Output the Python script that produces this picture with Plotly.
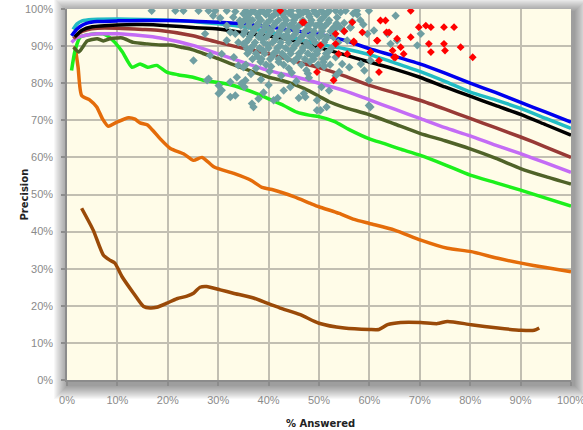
import plotly.graph_objects as go

# ---------------- data (percent units) ----------------
blue_x = [0.9, 2, 3, 4, 6, 10, 15, 20, 25, 30, 35, 40, 45, 50, 55, 60, 65, 70, 75, 80, 85, 90, 95, 100]
blue_y = [92.8, 94.6, 95.6, 96.2, 96.6, 96.8, 96.9, 96.9, 96.7, 96.4, 96.0, 95.2, 94.2, 93.2, 91.6, 89.3, 87.3, 85.2, 82.7, 80.0, 77.5, 74.8, 72.2, 69.5]

cyan_x = [1.2, 2, 3, 5, 10, 15, 20, 25, 30, 35, 40, 45, 50, 55, 60, 65, 70, 75, 80, 85, 90, 95, 100]
cyan_y = [94.5, 96.0, 96.8, 97.2, 97.3, 97.2, 97.0, 96.6, 96.0, 95.2, 93.8, 92.2, 90.5, 89.3, 87.7, 85.5, 83.2, 80.5, 77.6, 75.5, 73.2, 70.5, 67.8]

black_x = [1.5, 3, 5, 10, 15, 20, 25, 30, 35, 40, 45, 50, 55, 60, 65, 70, 75, 80, 85, 90, 95, 100]
black_y = [92.5, 94.3, 95.2, 95.7, 95.8, 95.5, 95.0, 94.6, 93.6, 92.7, 91.5, 89.6, 87.7, 85.7, 83.8, 81.6, 79.0, 76.5, 74.0, 71.6, 68.8, 66.0]

maroon_x = [1.3, 2.5, 4, 6, 10, 15, 18.5, 25, 30, 35, 40, 45, 50, 55, 60, 65, 70, 75, 80, 85, 90, 95, 100]
maroon_y = [92.0, 93.6, 94.4, 94.8, 94.8, 94.5, 94.2, 92.8, 91.0, 89.4, 87.9, 86.0, 84.2, 82.0, 79.4, 77.4, 75.4, 73.0, 70.5, 68.0, 65.5, 62.8, 60.0]

violet_x = [0.9, 2, 4, 6, 10, 15, 18.5, 25, 30, 35, 40, 45, 50, 55, 60, 65, 70, 75, 80, 85, 90, 95, 100]
violet_y = [91.0, 92.3, 93.0, 93.3, 93.3, 92.8, 92.2, 90.2, 87.9, 85.6, 83.4, 81.8, 80.0, 78.0, 75.5, 73.0, 70.5, 68.0, 65.8, 63.3, 61.0, 58.5, 56.0]

olive_x = [1.3, 2.3, 3, 4, 5, 6, 7.2, 8.5, 10, 11, 13.2, 15.9, 18.6, 20.6, 23, 25, 27, 30, 33, 36, 40, 43, 45, 47, 50, 52, 55, 60, 65, 70, 75, 80, 85, 90, 95, 100]
olive_y = [89.7, 88.4, 89.5, 91.4, 91.8, 92.0, 91.4, 92.0, 92.2, 92.2, 91.0, 90.6, 90.3, 90.3, 89.6, 89.0, 88.0, 86.6, 85.0, 83.5, 81.6, 80.6, 79.7, 78.6, 76.5, 75.0, 73.5, 71.5, 69.0, 66.5, 64.5, 62.3, 59.8, 57.0, 54.8, 52.8]

green_x = [0.9, 1.6, 2.6, 4, 5.9, 7.2, 8.3, 9.5, 11, 12.9, 14.5, 16, 17.8, 19.8, 22, 25, 27, 30, 32, 35, 38, 40, 43, 45.6, 48, 50, 53, 56, 60, 63, 66, 70, 75, 80, 85, 90, 95, 100]
green_y = [83.4, 88.8, 92.4, 93.0, 93.3, 93.3, 92.5, 91.0, 88.4, 84.3, 85.2, 84.3, 84.8, 83.0, 82.3, 81.6, 80.8, 80.2, 79.7, 78.5, 77.0, 75.8, 74.0, 72.2, 71.4, 71.0, 69.7, 67.5, 65.0, 63.7, 62.3, 60.6, 58.0, 55.2, 53.2, 51.2, 49.0, 46.9]

orange_x = [1.6, 2.2, 2.9, 4.6, 5.9, 7, 8.2, 9.9, 12.2, 13.5, 14.5, 15.9, 17, 18.5, 20.5, 23.1, 25.1, 26.8, 29.2, 33.1, 36.4, 38.7, 41, 45, 48.3, 50, 54, 57, 60, 65, 70.2, 75.5, 80.2, 85.5, 90.1, 95, 100]
orange_y = [90.0, 84.3, 76.7, 75.4, 73.6, 70.5, 68.4, 69.5, 70.7, 70.3, 69.3, 68.8, 67.3, 65.0, 62.4, 61.0, 59.2, 60.0, 57.4, 55.7, 53.9, 51.9, 51.2, 49.4, 47.6, 46.7, 44.9, 43.3, 42.2, 40.4, 37.7, 35.5, 34.6, 32.8, 31.5, 30.3, 29.2]

brown_x = [2.9, 5.2, 7.2, 8.5, 9.5, 10.9, 13.2, 15.2, 16.5, 17.8, 19.8, 21.8, 23.8, 25.1, 26.4, 27.7, 30.4, 33, 37, 39.7, 42.3, 46.3, 50, 55, 60, 61.9, 63.6, 66.2, 70.2, 73.5, 75.5, 80.2, 85.5, 90.1, 92.7, 93.7]
brown_y = [46.3, 40.4, 33.7, 32.3, 31.5, 27.9, 23.4, 19.8, 19.4, 19.6, 20.7, 21.9, 22.6, 23.4, 25.0, 25.2, 24.3, 23.4, 22.1, 20.7, 19.4, 17.6, 15.3, 14.0, 13.6, 13.6, 14.9, 15.5, 15.5, 15.2, 15.8, 14.9, 14.0, 13.4, 13.4, 14.0]

teal_x = [
    16.8, 21.5, 23.1, 26.1, 28.1, 29.4, 31.7, 33.4, 29.0, 30.4, 33.0, 35.0, 34.3, 31.7, 32.4, 33.4, 27.4, 31.7, 34.0, 35.0,
    35.7, 30.7, 28.4, 25.1, 33.1, 34.0, 35.0, 33.7, 28.1, 27.8, 32.4, 30.1, 34.6, 30.7, 32.4, 33.4, 30.1,
    35.4, 35.2, 36.7, 37.0, 38.0, 41.0, 41.8, 44.3, 47.0, 49.6, 50.3, 51.5, 36.5, 38.5, 40.0, 42.5, 45.5, 48.0, 50.5,
    39.0, 43.0, 46.0, 52.0, 53.3, 37.5, 40.5, 44.0, 47.5, 51.0, 54.0, 56.0, 58.3, 59.0, 60.2, 53.3, 54.6,
    35.5, 37.0, 38.5, 40.0, 41.5, 43.0, 44.5, 46.0, 47.5, 49.0, 50.5, 52.0, 53.3, 55.3, 57.5, 59.9,
    36.0, 37.8, 39.5, 41.2, 42.8, 44.5, 46.2, 48.0, 49.6, 51.2, 57.6,
    35.2, 36.8, 38.5, 40.3, 42.0, 43.5, 45.0, 46.8, 48.5, 50.3, 52.0, 56.6, 58.2,
    34.5, 36.0, 37.8, 39.2, 41.0, 42.7, 44.2, 46.0, 47.8, 49.4, 51.2, 52.9, 54.2, 56.2, 58.8,
    35.3, 37.0, 38.8, 40.5, 42.2, 43.8, 45.5, 47.2, 49.0, 50.6, 52.3, 60.9, 59.6,
    36.3, 38.0, 39.6, 41.5, 43.0, 44.8, 46.5, 48.2, 50.0, 51.6, 52.9, 55.6,
    35.5, 37.3, 39.0, 40.8, 42.4, 44.0, 45.8, 47.5, 49.2, 51.0, 53.8,
    36.5, 38.2, 40.0, 41.7, 43.4, 45.0, 46.8, 48.5, 50.2, 52.5,
    35.8, 37.5, 39.2, 41.0, 42.7, 44.4, 46.0, 47.8, 49.6, 51.4,
    36.8, 38.6, 40.3, 42.0, 43.8, 45.5, 47.2, 49.0, 50.8,
    35.5, 39.5, 43.0, 46.5, 49.8, 52.2,
    63.6, 65.2, 65.5, 64.2, 70.2, 69.5, 56.3, 59.9, 60.2, 47.3, 59.9, 49.6,
    34.6, 36.2, 37.9, 39.7, 41.4, 43.2, 44.9, 46.6, 48.4, 50.1, 51.8, 53.5, 55.0,
    35.0, 36.6, 38.3, 40.1, 41.9, 43.6, 45.3, 47.0, 48.8, 50.5, 53.0,
    36.4, 39.1, 41.8, 44.0, 46.9, 49.3, 51.7, 54.3, 56.8,
    35.9, 38.0, 40.6, 43.1, 45.4, 48.1, 50.9, 53.6,
    37.2, 39.9, 42.6, 45.1, 47.9, 50.6, 53.2, 55.0,
    36.0, 38.7, 41.3, 43.9, 46.3, 48.9, 51.3,
    37.0, 39.8, 42.3, 45.2, 47.7, 50.4,
    36.2, 38.9, 41.6, 44.3, 46.7, 49.5, 52.0,
    37.8, 40.8, 43.4, 46.0, 48.7, 51.6,
    38.4, 42.0, 45.0, 48.2, 50.9,
    40.2, 44.6, 47.8
]
teal_y = [
    99.5, 99.5, 99.5, 99.5, 99.5, 99.5, 99.5, 99.3, 98.2, 97.6, 97.8, 98.7, 96.9, 95.5, 93.7, 93.3, 93.3, 91.5, 91.0, 90.6,
    89.3, 87.9, 87.5, 86.1, 87.0, 84.8, 84.3, 81.6, 81.2, 80.8, 80.3, 79.4, 79.9, 78.1, 76.3, 76.7, 77.2,
    80.8, 79.0, 74.5, 73.6, 75.8, 75.4, 76.0, 79.0, 77.2, 75.4, 72.7, 73.6, 82.5, 81.0, 79.5, 82.0, 80.5, 81.5, 79.0,
    77.5, 78.0, 76.0, 78.0, 82.0, 84.0, 84.5, 84.0, 83.5, 84.5, 83.0, 84.3, 85.2, 83.4, 86.1, 87.0, 85.2,
    99.5, 99.5, 99.5, 99.5, 99.5, 99.5, 99.5, 99.5, 99.5, 99.5, 99.5, 99.5, 99.5, 99.5, 99.5, 99.5,
    98.5, 98.5, 98.5, 98.5, 98.5, 98.5, 98.5, 98.5, 98.5, 98.5, 98.5,
    97.0, 97.0, 97.0, 97.0, 97.0, 97.0, 97.0, 97.0, 97.0, 97.0, 97.0, 96.6, 97.0,
    95.5, 95.5, 95.5, 95.5, 95.5, 95.5, 95.5, 95.5, 95.5, 95.5, 95.5, 95.0, 95.0, 95.0, 95.8,
    94.0, 94.0, 94.0, 94.0, 94.0, 94.0, 94.0, 94.0, 94.0, 94.0, 94.0, 94.2, 93.3,
    92.5, 92.5, 92.5, 92.5, 92.5, 92.5, 92.5, 92.5, 92.5, 92.5, 92.4, 91.5,
    91.0, 91.0, 91.0, 91.0, 91.0, 91.0, 91.0, 91.0, 91.0, 91.0, 91.0,
    89.5, 89.5, 89.5, 89.5, 89.5, 89.5, 89.5, 89.5, 89.5, 89.5,
    88.0, 88.0, 88.0, 88.0, 88.0, 88.0, 88.0, 88.0, 88.0, 88.0,
    86.5, 86.5, 86.5, 86.5, 86.5, 86.5, 86.5, 86.5, 86.5,
    85.0, 85.0, 85.0, 85.0, 85.0, 85.0,
    93.3, 98.2, 91.5, 90.6, 93.3, 90.2, 95.1, 80.8, 73.6, 76.3, 74.0, 72.7,
    96.2, 96.3, 96.1, 96.3, 96.2, 96.0, 96.3, 96.1, 96.2, 96.0, 96.3, 96.1, 96.2,
    93.2, 93.3, 93.1, 93.3, 93.2, 93.0, 93.3, 93.1, 93.2, 93.0, 93.2,
    99.0, 99.1, 98.9, 99.0, 99.1, 98.9, 99.0, 99.1, 98.8,
    97.8, 97.7, 97.9, 97.8, 97.7, 97.9, 97.8, 97.7,
    94.8, 94.7, 94.9, 94.8, 94.7, 94.9, 94.6, 94.0,
    91.8, 91.9, 91.7, 91.8, 91.9, 91.7, 91.8,
    90.2, 90.3, 90.1, 90.2, 90.3, 90.1,
    88.7, 88.8, 88.6, 88.7, 88.8, 88.6, 88.7,
    87.2, 87.3, 87.1, 87.2, 87.3, 87.1,
    85.8, 85.7, 85.9, 85.8, 85.7,
    83.2, 82.8, 82.6
]

red_x = [42.3, 46.7, 47.0, 50.3, 53.3, 53.9, 49.6, 52.9, 55.6, 55.0, 56.9, 58.6, 60.2, 61.5, 61.9, 61.9, 56.6, 62.2, 63.2,
         63.4, 65.5, 66.2, 66.8, 64.9, 68.2, 68.2, 69.8, 71.2, 72.2, 71.8, 72.2, 74.8, 75.0, 74.8, 76.8, 78.1, 80.5,
         56.9, 61.6, 64.6, 65.2, 60.2, 63.9, 53.3]
red_y = [99.5, 96.4, 96.4, 90.2, 90.6, 87.9, 83.0, 80.8, 87.9, 94.0, 91.0, 93.7, 88.4, 91.5, 83.0, 86.1, 96.4, 96.9, 96.9,
         93.7, 92.0, 89.7, 87.9, 87.0, 99.5, 92.4, 95.1, 95.5, 95.1, 90.6, 88.4, 90.6, 88.8, 95.1, 95.1, 89.7, 87.0,
         91.3, 91.5, 88.8, 87.0, 88.4, 93.7, 93.3]

tick_vals = [0, 10, 20, 30, 40, 50, 60, 70, 80, 90, 100]
tick_text = ["0%", "10%", "20%", "30%", "40%", "50%", "60%", "70%", "80%", "90%", "100%"]
x_title = "% Answered"
y_title = "Precision"

# ---------------- figure ----------------
fig = go.Figure()

lines = [
    (brown_x, brown_y, "#9A4A08"),
    (orange_x, orange_y, "#E46C0A"),
    (green_x, green_y, "#1CF01C"),
    (olive_x, olive_y, "#4F6228"),
    (violet_x, violet_y, "#C46CF5"),
    (maroon_x, maroon_y, "#983A36"),
    (black_x, black_y, "#000000"),
    (cyan_x, cyan_y, "#22BCC4"),
    (blue_x, blue_y, "#0000EE"),
]
for xs, ys, col in lines:
    fig.add_trace(go.Scatter(x=xs, y=ys, mode="lines",
                             line=dict(color=col, width=3.5, shape="spline", smoothing=0.6),
                             showlegend=False, hoverinfo="skip"))

fig.add_trace(go.Scatter(x=teal_x, y=teal_y, mode="markers",
                         marker=dict(symbol="diamond", size=6.5, color="#6F9FA2", line=dict(width=0)),
                         showlegend=False))
fig.add_trace(go.Scatter(x=red_x, y=red_y, mode="markers",
                         marker=dict(symbol="diamond", size=6, color="#FF0000", line=dict(width=0)),
                         showlegend=False))

# soft drop shadow around plot area
W, H = 504.0, 371.0
shapes = []
for k in range(1, 15):
    dx, dy = 3, 5
    shapes.append(dict(type="rect", xref="paper", yref="paper", layer="below",
                       x0=(-k + dx * 0.3) / W, x1=1 + (k + dx) / W,
                       y0=-(k + dy) / H, y1=1 + (k - dy * 0.6) / H,
                       fillcolor="rgba(0,0,0,0.03)", line=dict(width=0)))
shapes.append(dict(type="rect", xref="paper", yref="paper", layer="below",
                   x0=0, x1=1, y0=0, y1=1, fillcolor="#FFFCE8", line=dict(width=0)))

axis_common = dict(
    range=[0, 100], tickmode="array", tickvals=tick_vals, ticktext=tick_text,
    showgrid=True, gridcolor="#C2BFB2", gridwidth=1.5,
    showline=True, linecolor="#8C8C8C", linewidth=1.5,
    ticks="outside", ticklen=4, tickcolor="#8C8C8C", tickwidth=1.5,
    tickfont=dict(family="Liberation Sans, Arial, sans-serif", size=11, color="#8A8A8A"),
    zeroline=False, fixedrange=True, ticklabeloverflow="allow",
)

fig.update_layout(
    width=583, height=430,
    margin=dict(l=67, r=12, t=9, b=50, autoexpand=False),
    paper_bgcolor="#FFFFFF",
    plot_bgcolor="#FFFCE8",
    shapes=shapes,
    xaxis=dict(axis_common, ticklabelstandoff=5),
    yaxis=dict(axis_common, ticklabelstandoff=6),
    annotations=[
        dict(text="<b>" + x_title + "</b>", xref="paper", yref="paper", x=0.502, y=-0.116,
             showarrow=False, xanchor="center", yanchor="middle",
             font=dict(family="DejaVu Sans, Verdana, sans-serif", size=10, color="#222222")),
        dict(text="<b>" + y_title + "</b>", xref="paper", yref="paper", x=-0.0853, y=0.5,
             textangle=-90, showarrow=False, xanchor="center", yanchor="middle",
             font=dict(family="DejaVu Sans, Verdana, sans-serif", size=10, color="#222222")),
    ],
)

fig.write_html("out.html", config={"displayModeBar": False},
               post_script="document.body.style.margin='0';document.body.style.overflow='hidden';")
